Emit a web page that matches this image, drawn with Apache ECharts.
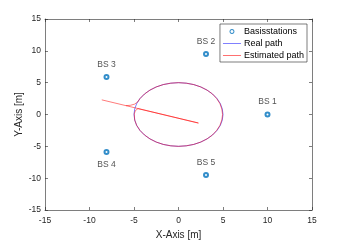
<!DOCTYPE html>
<html><head><meta charset="utf-8">
<script src="https://cdn.jsdelivr.net/npm/echarts@6/dist/echarts.min.js"></script>
<style>html,body{margin:0;padding:0;background:#fff}#c{width:345px;height:241px}</style>
</head><body><div id="c"></div>
<script>
var bsNames = ['BS 1','BS 2','BS 3','BS 4','BS 5'];
var bsX = [10, 3.09, -8.09, -8.09, 3.09];
var bsY = [0, 9.51, 5.88, -5.88, -9.51];
var realX = [5,4.92,4.70,4.33,3.83,3.21,2.5,1.71,0.87,0,-0.87,-1.71,-2.5,-3.21,-3.83,-4.33,-4.70,-4.92,-5,-4.92,-4.70,-4.33,-3.83,-3.21,-2.5,-1.71,-0.87,0,0.87,1.71,2.5,3.21,3.83,4.33,4.70,4.92,5];
var realY = [0,0.87,1.71,2.5,3.21,3.83,4.33,4.70,4.92,5,4.92,4.70,4.33,3.83,3.21,2.5,1.71,0.87,0,-0.87,-1.71,-2.5,-3.21,-3.83,-4.33,-4.70,-4.92,-5,-4.92,-4.70,-4.33,-3.83,-3.21,-2.5,-1.71,-0.87,0];
var estX = [-8.62,2.24,-4.55,-4.85,-4.97,-4.92,-4.70,-4.33,-3.83,-3.21,-2.5,-1.71,-0.87,0,0.87,1.71,2.5,3.21,3.83,4.30,4.66,4.87,4.95,4.87,4.66,4.30,3.83,3.21,2.5,1.71,0.87,0,-0.87,-1.71,-2.5,-3.21,-3.83,-4.33,-4.60,-4.95,-5.4,-5.9];
var estY = [2.3,-1.34,0.93,0.6,0.1,-0.87,-1.71,-2.5,-3.21,-3.83,-4.33,-4.70,-4.92,-5,-4.92,-4.70,-4.33,-3.83,-3.21,-2.48,-1.70,-0.86,0,0.86,1.70,2.48,3.21,3.83,4.33,4.70,4.92,5,4.92,4.70,4.33,3.83,3.21,2.5,1.95,1.62,1.45,1.39];
var ticks = [-15,-10,-5,0,5,10,15];

function pairs(a,b){return a.map(function(v,i){return [v,b[i]];});}
var bsData = bsX.map(function(v,i){return {name:bsNames[i], value:[v,bsY[i]], label:{position: bsNames[i]==='BS 4'?'bottom':'top'}};});

var txt = '#262626';
var font = 'Liberation Sans, Arial, sans-serif';
var lineIcon = 'path://M0,0H18V1H0Z';
var ringIcon = 'path://M10,5L9.33,7.5L7.5,9.33L5,10L2.5,9.33L0.67,7.5L0,5L0.67,2.5L2.5,0.67L5,0L7.5,0.67L9.33,2.5ZM8,5L7.6,3.5L6.5,2.4L5,2L3.5,2.4L2.4,3.5L2,5L2.4,6.5L3.5,7.6L5,8L6.5,7.6L7.6,6.5Z';
var ax = function(pos, show, name){
  return {type:'value', position:pos, min:ticks[0], max:ticks[ticks.length-1], interval:ticks[1]-ticks[0],
    name: name||'', nameLocation:'middle', nameGap: pos==='bottom'?20:21, nameMoveOverlap:false,
    nameTextStyle:{color:txt, fontSize:10, fontFamily:font},
    axisLine:{show:true, onZero:false, lineStyle:{color:txt, width:0.6}},
    axisTick:{show:true, inside:true, length:3, lineStyle:{color:txt, width:0.6}},
    axisLabel:{show:show, color:txt, fontSize:8.5, fontFamily:font, margin:pos==='bottom'?6:4},
    splitLine:{show:false}};
};
var chart = echarts.init(document.getElementById('c'), null, {renderer:'canvas'});
chart.setOption({
  animation:false,
  grid:{left:45, right:33, top:19, bottom:31, containLabel:false, outerBoundsMode:'none'},
  xAxis:[ax('bottom', true, 'X-Axis [m]'), ax('top', false)],
  yAxis:[ax('left', true, 'Y-Axis [m]'), ax('right', false)],
  legend:{orient:'vertical', right:38, top:24, itemWidth:18, itemHeight:5, itemGap:3,
    padding:[3,3,2,3], borderColor:txt, borderWidth:0.6, backgroundColor:'#fff',
    textStyle:{color:'#000', fontSize:9, fontFamily:font, padding:[0,0,0,-2]},
    data:[{name:'Basisstations', icon:ringIcon, itemStyle:{borderWidth:0, color:'#0072BD'}},
          {name:'Real path', icon:lineIcon, itemStyle:{borderWidth:0, color:'#8080ff'}},
          {name:'Estimated path', icon:lineIcon, itemStyle:{borderWidth:0, color:'#ff7070'}}]},
  series:[
    {name:'Real path', type:'line', data:pairs(realX,realY), showSymbol:false, symbol:'none',
      lineStyle:{color:'#0000ff', width:0.8, opacity:0.65}, itemStyle:{color:'#8080ff'}, z:2},
    {name:'Estimated path', type:'line', data:pairs(estX,estY), showSymbol:false, symbol:'none',
      lineStyle:{color:'#ff0000', width:0.8, opacity:0.65}, itemStyle:{color:'#ff7070'}, z:3},
    {name:'Basisstations', type:'scatter', data:bsData, symbol:'emptyCircle', symbolSize:4,
      itemStyle:{color:'#0072BD', borderColor:'#0072BD', borderWidth:0.9},
      label:{show:true, formatter:'{b}', color:txt, fontSize:8.5, fontFamily:font, distance:5}, z:4}
  ]
});
</script></body></html>
